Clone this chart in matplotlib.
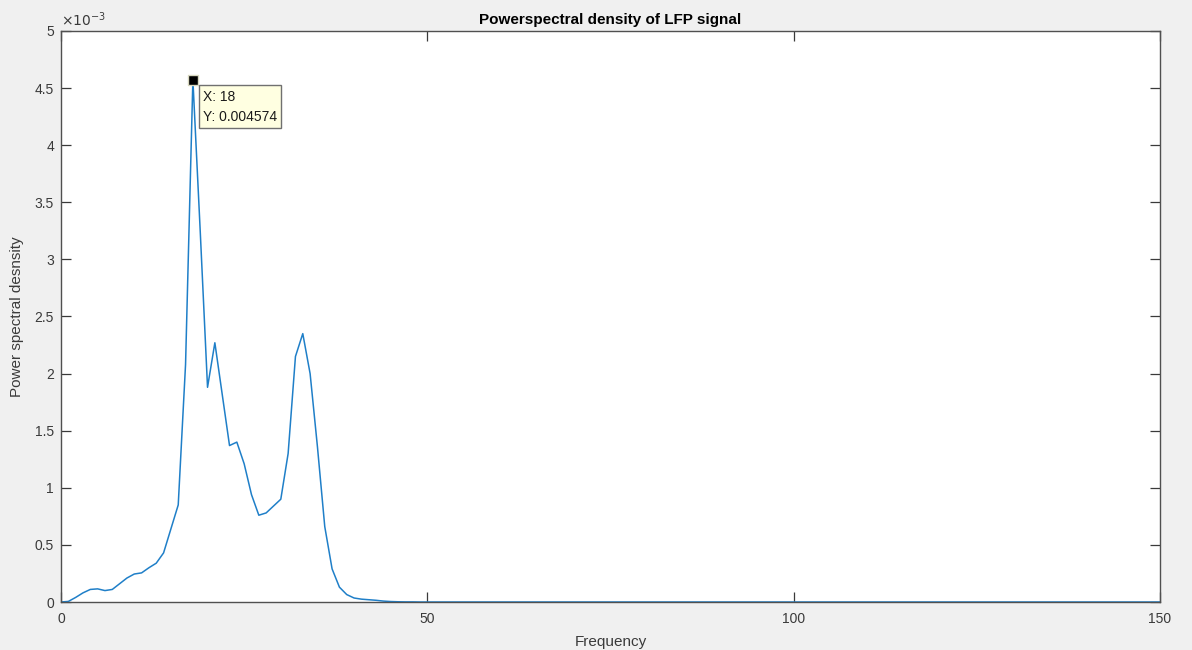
import matplotlib
matplotlib.use('Agg')
import matplotlib.pyplot as plt
import numpy as np
from matplotlib.ticker import FuncFormatter

plt.rcParams['font.family'] = ['Liberation Sans', 'DejaVu Sans']

# ---- data (PSD in units of 1e-3), one value per 1 Hz bin from 0 to 150 ----
freq = np.arange(0, 151)
psd_milli = [
    0.0, 0.005, 0.04, 0.08, 0.11, 0.115, 0.10, 0.11, 0.16, 0.21,
    0.245, 0.255, 0.30, 0.34, 0.43, 0.64, 0.85, 2.08, 4.574, 3.25,
    1.88, 2.27, 1.82, 1.37, 1.40, 1.21, 0.94, 0.76, 0.78, 0.84,
    0.90, 1.30, 2.15, 2.35, 2.00, 1.36, 0.66, 0.29, 0.13, 0.065,
    0.035, 0.025, 0.02, 0.015, 0.008, 0.004, 0.002, 0.001, 0.001, 0.0,
    0.0, 0.0, 0.0, 0.0, 0.0, 0.0, 0.0, 0.0, 0.0, 0.0,
    0.0, 0.0, 0.0, 0.0, 0.0, 0.0, 0.0, 0.0, 0.0, 0.0,
    0.0, 0.0, 0.0, 0.0, 0.0, 0.0, 0.0, 0.0, 0.0, 0.0,
    0.0, 0.0, 0.0, 0.0, 0.0, 0.0, 0.0, 0.0, 0.0, 0.0,
    0.0, 0.0, 0.0, 0.0, 0.0, 0.0, 0.0, 0.0, 0.0, 0.0,
    0.0, 0.0, 0.0, 0.0, 0.0, 0.0, 0.0, 0.0, 0.0, 0.0,
    0.0, 0.0, 0.0, 0.0, 0.0, 0.0, 0.0, 0.0, 0.0, 0.0,
    0.0, 0.0, 0.0, 0.0, 0.0, 0.0, 0.0, 0.0, 0.0, 0.0,
    0.0, 0.0, 0.0, 0.0, 0.0, 0.0, 0.0, 0.0, 0.0, 0.0,
    0.0, 0.0, 0.0, 0.0, 0.0, 0.0, 0.0, 0.0, 0.0, 0.0,
    0.0,
]
psd = np.array(psd_milli) * 1e-3

peak_freq = 18
peak_val = 0.004574

x_ticks = [0, 50, 100, 150]
y_ticks = [0, 0.0005, 0.001, 0.0015, 0.002, 0.0025, 0.003, 0.0035, 0.004, 0.0045, 0.005]

title = 'Powerspectral density of LFP signal'
xlabel = 'Frequency'
ylabel = 'Power spectral desnsity'

W, H = 1192, 650
fig = plt.figure(figsize=(W / 100, H / 100), dpi=100, facecolor='#f0f0f0')
ax = fig.add_axes([61 / W, 48 / H, 1099 / W, 571 / H])
ax.set_facecolor('white')

ax.plot(freq, psd, color='#1f7fc8', lw=1.1, zorder=2)

ax.set_xlim(0, 150)
ax.set_ylim(0, 0.005)
ax.set_xticks(x_ticks)
ax.set_yticks(y_ticks)
ax.yaxis.set_major_formatter(FuncFormatter(lambda v, p: f"{v * 1e3:g}"))
ax.tick_params(direction='in', top=True, right=True, length=7, width=0.9,
               colors='#3a3a3a', labelsize=10, pad=5)
ax.tick_params(axis='x', pad=7)
for s in ax.spines.values():
    s.set_color('#505050')
    s.set_linewidth(1.0)

ax.text(0.0, 1.004, r'$\times10^{-3}$', transform=ax.transAxes,
        ha='left', va='bottom', fontsize=10, color='#3a3a3a')

ax.set_title(title, fontsize=11, fontweight='bold', color='black', pad=5)
ax.set_xlabel(xlabel, fontsize=11, color='#3a3a3a', labelpad=7)
ax.set_ylabel(ylabel, fontsize=11, color='#3a3a3a', labelpad=8)

# data tip
ax.plot([peak_freq], [peak_val], marker='s', color='black', markersize=7,
        markeredgecolor='#d8d8c0', markeredgewidth=1, zorder=4, clip_on=False)
ax.annotate(f"X: {peak_freq}\nY: {peak_val}", xy=(peak_freq, peak_val),
            xytext=(10, -10), textcoords='offset pixels', ha='left', va='top',
            fontsize=10, linespacing=1.55, color='#1a1a1a', zorder=5,
            bbox=dict(boxstyle='square,pad=0.3', fc='#ffffe1', ec='#707070', lw=1))

fig.savefig('out.png', dpi=100, facecolor=fig.get_facecolor())
